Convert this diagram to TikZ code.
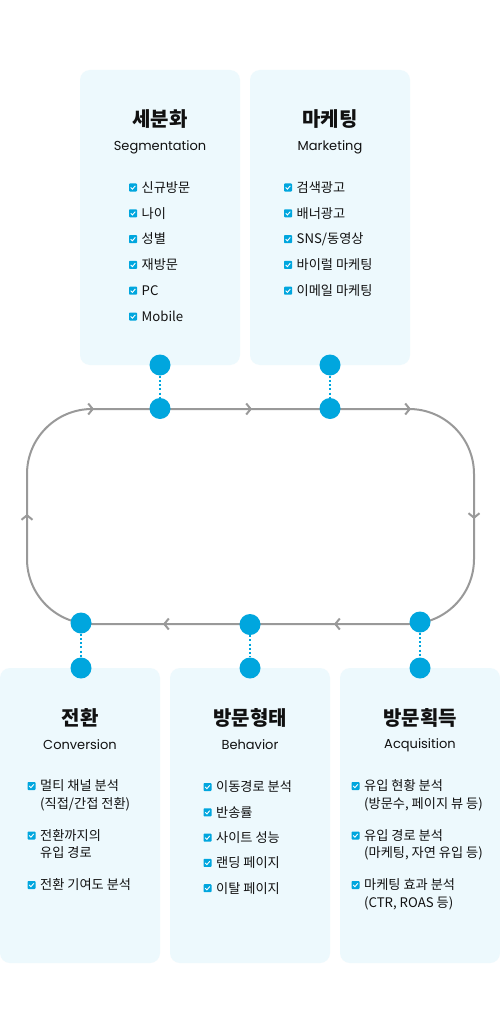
\documentclass[tikz,border=0pt]{standalone}
\usepackage{fontspec}
\setmainfont{Noto Sans CJK KR}
\newfontfamily\popfont{Poppins}
\usetikzlibrary{arrows.meta}
\definecolor{brand}{HTML}{00A6DE}
\definecolor{boxbg}{HTML}{EDF9FD}
\definecolor{loopgray}{HTML}{999999}
\definecolor{txt}{HTML}{111111}
\newcounter{itm}
\newcommand\chkitem[3]{%
  \stepcounter{itm}%
  \node[chkbox] (k\arabic{itm}) at (#1,#2) {};
  \draw[chkmark] ([shift={(-2.3,0)}]k\arabic{itm}.center) -- ++(1.7,1.7) -- ++(2.9,-3.4);
  \node[itemtxt] (t\arabic{itm}) at ({#1+8.5},{#2+4.8}) {#3};
}
\newcommand\chkitemtwo[4]{%
  \chkitem{#1}{#2}{#3}%
  \node[itemtxt] (u\arabic{itm}) at ({#1+8.5},{#2+4.8+17.5}) {#4};
}
\begin{document}
\begin{tikzpicture}[x=1pt,y=-1pt,
  infobox/.style={fill=boxbg, rounded corners=10pt, minimum width=160pt, minimum height=295pt, inner sep=0pt},
  dotc/.style={circle, fill=brand, minimum size=21pt, inner sep=0pt},
  dotline/.style={draw=brand, line width=2pt, dash pattern=on 2pt off 2.2pt},
  loopline/.style={draw=loopgray, line width=2pt},
  tip/.style={loopline, -{Straight Barb[length=4.5pt,width=11pt]}},
  ttl/.style={font=\bfseries\fontsize{20}{24}\selectfont, text=txt, inner sep=0pt},
  sub/.style={font=\popfont\fontsize{13}{16}\selectfont, text=txt, inner sep=0pt},
  chkbox/.style={fill=brand, rounded corners=0.8pt, minimum size=8pt, inner sep=0pt},
  chkmark/.style={draw=white, line width=0.9pt},
  itemtxt/.style={anchor=base west, inner sep=0pt, text=txt, font=\fontsize{13.2}{16}\selectfont}]
\useasboundingbox (0,0) rectangle (500,1035);
\fill[white] (0,0) rectangle (500,1035);

% boxes
\node[infobox] (seg) at (160,217.5) {};
\node[infobox] (mkt) at (330,217.5) {};
\node[infobox] (con) at (80,815.5) {};
\node[infobox] (beh) at (250,815.5) {};
\node[infobox] (acq) at (420,815.5) {};

% loop
\draw[loopline, rounded corners=65pt] (27,409) rectangle (474,624);
\draw[tip] (87,409) -- (94,409);
\draw[tip] (245,409) -- (252,409);
\draw[tip] (404,409) -- (411,409);
\draw[tip] (474,512) -- (474,519);
\draw[tip] (341,624) -- (334,624);
\draw[tip] (170,624) -- (163,624);
\draw[tip] (27,521) -- (27,514);

% circles
\node[dotc] (segb) at (160,365) {};
\node[dotc] (segl) at (160,408.5) {};
\node[dotc] (mktb) at (330,365) {};
\node[dotc] (mktl) at (330,408.5) {};
\node[dotc] (conl) at (81,623) {};
\node[dotc] (cont) at (81,668) {};
\node[dotc] (behl) at (250,624.5) {};
\node[dotc] (beht) at (250,668) {};
\node[dotc] (acql) at (420,622) {};
\node[dotc] (acqt) at (420,668) {};
\draw[dotline] (segb) -- (segl);
\draw[dotline] (mktb) -- (mktl);
\draw[dotline] (conl) -- (cont);
\draw[dotline] (behl) -- (beht);
\draw[dotline] (acql) -- (acqt);

% titles
\node[ttl] (segT) at (160,119) {세분화};
\node[sub] (segS) at (160,147) {Segmentation};
\node[ttl] (mktT) at (330,119) {마케팅};
\node[sub] (mktS) at (330,147) {Marketing};
\node[ttl] (conT) at (80,718) {전환};
\node[sub] (conS) at (80,745) {Conversion};
\node[ttl] (behT) at (250,718) {방문형태};
\node[sub] (behS) at (250,745) {Behavior};
\node[ttl] (acqT) at (420,718) {방문획득};
\node[sub] (acqS) at (420,745) {Acquisition};

% items
\chkitem{133}{187.5}{신규방문}
\chkitem{133}{213.3}{나이}
\chkitem{133}{239.1}{성별}
\chkitem{133}{264.9}{재방문}
\chkitem{133}{290.7}{PC}
\chkitem{133}{316.5}{Mobile}

\chkitem{288}{187.5}{검색광고}
\chkitem{288}{213.3}{배너광고}
\chkitem{288}{239.1}{SNS/동영상}
\chkitem{288}{264.9}{바이럴 마케팅}
\chkitem{288}{290.7}{이메일 마케팅}

\chkitemtwo{31.5}{786}{멀티 채널 분석}{(직접/간접 전환)}
\chkitemtwo{31.5}{835.5}{전환까지의}{유입 경로}
\chkitem{31.5}{885}{전환 기여도 분석}

\chkitem{207.5}{787}{이동경로 분석}
\chkitem{207.5}{812.3}{반송률}
\chkitem{207.5}{837.6}{사이트 성능}
\chkitem{207.5}{862.9}{랜딩 페이지}
\chkitem{207.5}{888.2}{이탈 페이지}

\chkitemtwo{355.5}{786}{유입 현황 분석}{(방문수, 페이지 뷰 등)}
\chkitemtwo{355.5}{835.5}{유입 경로 분석}{(마케팅, 자연 유입 등)}
\chkitemtwo{355.5}{885}{마케팅 효과 분석}{(CTR, ROAS 등)}
\end{tikzpicture}
\end{document}
